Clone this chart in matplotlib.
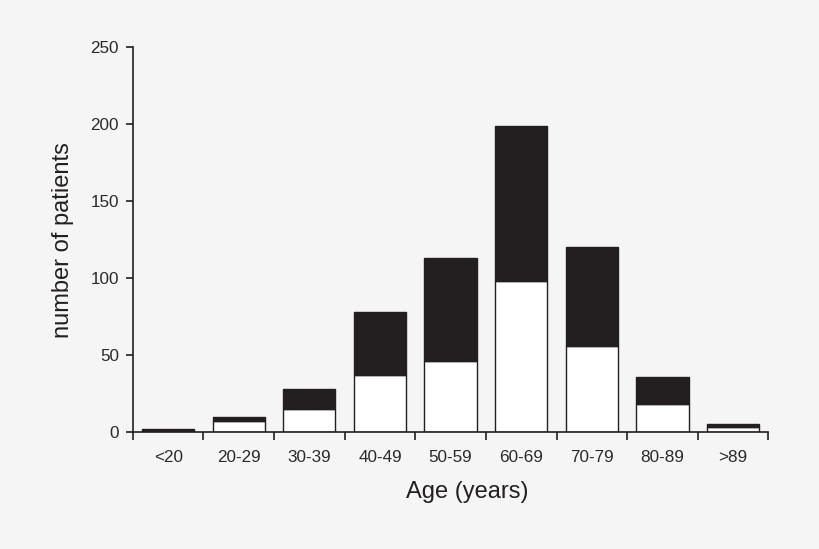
import numpy as np
import matplotlib.pyplot as plt

plt.rcParams['font.family'] = ['Liberation Sans', 'DejaVu Sans']

# age groups and patient counts (white = lower part, total = full bar height)
age_groups = ['<20', '20-29', '30-39', '40-49', '50-59', '60-69', '70-79', '80-89', '>89']
white_part = [0, 7, 15, 37, 46, 98, 56, 18, 3]
totals = [2, 10, 28, 78, 113, 199, 120, 36, 5]

black_part = [t - w for t, w in zip(totals, white_part)]
x = np.arange(len(age_groups))

bg = '#f5f5f5'
fig = plt.figure(figsize=(8.2, 5.49), dpi=100, facecolor=bg)
ax = fig.add_axes([0.162, 0.213, 0.775, 0.701])
ax.set_facecolor(bg)

ax.bar(x, white_part, width=0.74, color='white', edgecolor='#231f20', linewidth=1.0)
ax.bar(x, black_part, width=0.74, bottom=white_part, color='#231f20',
       edgecolor='#231f20', linewidth=1.0)

ax.set_xlim(-0.5, len(age_groups) - 0.5)
ax.set_ylim(0, 250)
ax.set_yticks([0, 50, 100, 150, 200, 250])

# tick marks at group boundaries, labels centred under the bars
ax.set_xticks(np.arange(len(age_groups) + 1) - 0.5)
ax.set_xticklabels([])
ax.set_xticks(x, minor=True)
ax.set_xticklabels(age_groups, minor=True)
ax.tick_params(axis='x', which='major', length=6, width=1.2, color='#231f20')
ax.tick_params(axis='x', which='minor', length=0, pad=13, labelsize=12.3, labelcolor='#2a2a2a')
ax.tick_params(axis='y', length=5, width=1.2, pad=5, labelsize=12.3, color='#231f20',
               labelcolor='#2a2a2a')

for side in ['top', 'right']:
    ax.spines[side].set_visible(False)
for side in ['left', 'bottom']:
    ax.spines[side].set_linewidth(1.2)
    ax.spines[side].set_color('#231f20')

ax.set_xlabel('Age (years)', fontsize=17, color='#231f20')
ax.xaxis.set_label_coords(0.526, -0.128)
ax.set_ylabel('number of patients', fontsize=17, labelpad=12, color='#231f20')

fig.savefig('out.png', dpi=100, facecolor=bg)
